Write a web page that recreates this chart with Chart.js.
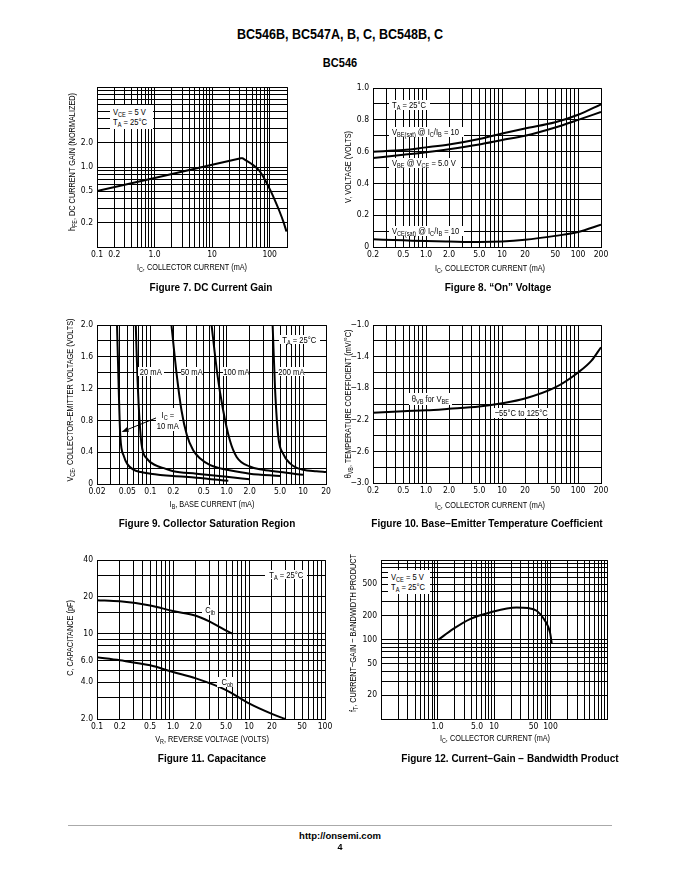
<!DOCTYPE html>
<html>
<head>
<meta charset="utf-8">
<title>BC546 characteristics</title>
<script src="https://cdn.jsdelivr.net/npm/chart.js@4.4.1/dist/chart.umd.min.js"></script>
<style>
  body { margin: 0; background: #fff; }
  #page { position: relative; width: 680px; height: 880px; overflow: hidden; color: #000;
    font-family: 'Liberation Sans', Arial, sans-serif; font-size: 9.5px; --sx: 0.77; }
  #page canvas { position: absolute; }
  .t { position: absolute; white-space: nowrap; line-height: 1;
    transform: translate(-50%, -50%) scaleX(var(--sx)); }
  .yt { position: absolute; white-space: nowrap; line-height: 1;
    transform: translate(-50%, -50%) rotate(-90deg) scaleX(var(--sx)); }
  .cap { font-weight: bold; font-size: 10px; --sx: 1; }
  .hd { font-weight: bold; }
  .n { position: absolute; background: #fff; white-space: nowrap; line-height: 10px; z-index: 2;
    display: flex; flex-direction: column; justify-content: center; align-items: center; }
  .n span { display: inline-block; transform: scaleX(0.8); transform-origin: center; }
  .n.l { align-items: flex-start; padding-left: 3px; box-sizing: border-box; }
  .n.l span { transform-origin: left center; }
  sub { font-size: 7px; vertical-align: -2px; line-height: 0; }
</style>
</head>
<body>
<div id="page">
  <div class="t hd" style="left:340px;top:33px;font-size:15px;--sx:0.835">BC546B, BC547A, B, C, BC548B, C</div>
  <div class="t hd" style="left:340px;top:62px;font-size:13px;--sx:0.85">BC546</div>

  <canvas id="fig7"></canvas>
  <canvas id="fig8"></canvas>
  <canvas id="fig9"></canvas>
  <canvas id="fig10"></canvas>
  <canvas id="fig11"></canvas>
  <canvas id="fig12"></canvas>

  <!-- figure 7 -->
  <div class="yt" style="left:72px;top:162px">h<sub>FE</sub>, DC CURRENT GAIN (NORMALIZED)</div>
  <div class="t" style="left:192px;top:267px">I<sub>C</sub>, COLLECTOR CURRENT (mA)</div>
  <div class="t cap" style="left:211px;top:288px">Figure 7. DC Current Gain</div>
  <div class="n l" style="left:110px;top:105px;width:43px;height:24px"><span>V<sub>CE</sub> = 5 V</span><span>T<sub>A</sub> = 25°C</span></div>

  <!-- figure 8 -->
  <div class="yt" style="left:348px;top:167px">V, VOLTAGE (VOLTS)</div>
  <div class="t" style="left:490px;top:268px">I<sub>C</sub>, COLLECTOR CURRENT (mA)</div>
  <div class="t cap" style="left:498px;top:288px">Figure 8. “On” Voltage</div>
  <div class="n l" style="left:389px;top:100px;width:41px;height:10px"><span>T<sub>A</sub> = 25°C</span></div>
  <div class="n l" style="left:389px;top:127px;width:75px;height:10px"><span>V<sub>BE(sat)</sub> @ I<sub>C</sub>/I<sub>B</sub> = 10</span></div>
  <div class="n l" style="left:389px;top:158px;width:72px;height:10px"><span>V<sub>BE</sub> @ V<sub>CE</sub> = 5.0 V</span></div>
  <div class="n l" style="left:389px;top:226px;width:75px;height:10px"><span>V<sub>CE(sat)</sub> @ I<sub>C</sub>/I<sub>B</sub> = 10</span></div>

  <!-- figure 9 -->
  <div class="yt" style="left:70px;top:400px">V<sub>CE</sub>, COLLECTOR–EMITTER VOLTAGE (VOLTS)</div>
  <div class="t" style="left:212px;top:504px">I<sub>B</sub>, BASE CURRENT (mA)</div>
  <div class="t cap" style="left:207px;top:524px">Figure 9. Collector Saturation Region</div>
  <div class="n" style="left:279px;top:335px;width:41px;height:9px"><span>T<sub>A</sub> = 25°C</span></div>
  <div class="n" style="left:138px;top:367px;width:26px;height:9px"><span>20 mA</span></div>
  <div class="n" style="left:181px;top:367px;width:22px;height:9px"><span>50 mA</span></div>
  <div class="n" style="left:223px;top:367px;width:26px;height:9px"><span>100 mA</span></div>
  <div class="n" style="left:278px;top:367px;width:26px;height:9px"><span>200 mA</span></div>
  <div class="n" style="left:156px;top:408px;width:23px;height:23px;line-height:11px"><span>I<sub>C</sub> =</span><span>10 mA</span></div>

  <!-- figure 10 -->
  <div class="yt" style="left:348px;top:404px">θ<sub>VB</sub>, TEMPERATURE COEFFICIENT (mV/°C)</div>
  <div class="t" style="left:490px;top:505px">I<sub>C</sub>, COLLECTOR CURRENT (mA)</div>
  <div class="t cap" style="left:487px;top:524px">Figure 10. Base−Emitter Temperature Coefficient</div>
  <div class="n" style="left:409px;top:393px;width:43px;height:12px"><span>θ<sub>VB</sub> for V<sub>BE</sub></span></div>
  <div class="n" style="left:493px;top:408px;width:57px;height:10px"><span>−55°C to 125°C</span></div>

  <!-- figure 11 -->
  <div class="yt" style="left:70px;top:638px">C, CAPACITANCE (pF)</div>
  <div class="t" style="left:212px;top:739px">V<sub>R</sub>, REVERSE VOLTAGE (VOLTS)</div>
  <div class="t cap" style="left:212px;top:759px">Figure 11. Capacitance</div>
  <div class="n" style="left:265px;top:570px;width:42px;height:9px"><span>T<sub>A</sub> = 25°C</span></div>
  <div class="n" style="left:202px;top:605px;width:16px;height:10px"><span>C<sub>ib</sub></span></div>
  <div class="n" style="left:217px;top:677px;width:20px;height:10px"><span>C<sub>ob</sub></span></div>

  <!-- figure 12 -->
  <div class="yt" style="left:353px;top:633px">f<sub>T</sub>, CURRENT−GAIN − BANDWIDTH PRODUCT</div>
  <div class="t" style="left:495px;top:738px">I<sub>C</sub>, COLLECTOR CURRENT (mA)</div>
  <div class="t cap" style="left:510px;top:759px">Figure 12. Current−Gain − Bandwidth Product</div>
  <div class="n l" style="left:388px;top:570px;width:42px;height:24px"><span>V<sub>CE</sub> = 5 V</span><span>T<sub>A</sub> = 25°C</span></div>

  <div style="position:absolute;left:68px;top:825px;width:544px;height:1px;background:#aaa"></div>
  <div class="t hd" style="left:340px;top:836px;--sx:1">http://onsemi.com</div>
  <div class="t hd" style="left:340px;top:847px;font-size:9px;--sx:1">4</div>
</div>

<script>
// Figure 7: DC current gain (normalized) vs collector current
const f7RiseIc = [0.1, 1, 10, 33];
const f7RiseHfe = [0.5, 0.73, 1.07, 1.3];
const f7FallIc = [33, 48, 66, 84, 103, 126, 148, 174, 196];
const f7FallHfe = [1.3, 1.1, 0.9, 0.68, 0.51, 0.37, 0.28, 0.205, 0.156];
const f7XTicks = [0.1, 0.2, 1, 10, 100];
const f7XLabels = ['0.1', '0.2', '1.0', '10', '100'];
const f7YTicks = [0.2, 0.5, 1, 2];
const f7YLabels = ['0.2', '0.5', '1.0', '2.0'];

// Figure 8: "on" voltages
const f8Ic = [0.2, 0.5, 1, 2, 5, 10, 20, 50, 100, 200];
const f8VbeSat = [0.6, 0.61, 0.627, 0.645, 0.68, 0.714, 0.746, 0.785, 0.832, 0.898];
const f8Vbe = [0.56, 0.58, 0.596, 0.615, 0.645, 0.673, 0.7, 0.752, 0.8, 0.85];
const f8VceSat = [0.048, 0.042, 0.037, 0.034, 0.031, 0.034, 0.045, 0.07, 0.094, 0.14];
const f8XTicks = [0.2, 0.5, 1, 2, 5, 10, 20, 50, 100, 200];
const f8XLabels = ['0.2', '0.5', '1.0', '2.0', '5.0', '10', '20', '50', '100', '200'];
const f8YTicks = [0, 0.2, 0.4, 0.6, 0.8, 1];
const f8YLabels = ['0', '0.2', '0.4', '0.6', '0.8', '1.0'];

// Figure 9: collector saturation region, one curve per collector current
const f9Ib10 = [0.0366, 0.0385, 0.0404, 0.045, 0.05, 0.06, 0.075, 0.1, 0.2, 0.4, 1.05];
const f9Vce10 = [2.0, 1.2, 0.6, 0.35, 0.25, 0.18, 0.15, 0.13, 0.1, 0.08, 0.04];
const f9Ib20 = [0.0644, 0.068, 0.0764, 0.09, 0.12, 0.15, 0.2, 0.4, 1.0, 2.0];
const f9Vce20 = [2.0, 1.3, 0.51, 0.32, 0.23, 0.2, 0.16, 0.13, 0.09, 0.06];
const f9Ib50 = [0.189, 0.22, 0.256, 0.3, 0.364, 0.45, 0.6, 0.8, 1.0, 2.0, 5.0];
const f9Vce50 = [2.0, 1.4, 0.925, 0.62, 0.425, 0.32, 0.24, 0.2, 0.18, 0.13, 0.1];
const f9Ib100 = [0.634, 0.75, 0.9, 1.1, 1.35, 2.0, 3.0, 5.0, 10];
const f9Vce100 = [2.0, 1.4, 0.925, 0.55, 0.34, 0.22, 0.18, 0.15, 0.115];
const f9Ib200 = [4.0, 4.3, 4.75, 5.5, 6.76, 8, 10, 15, 20];
const f9Vce200 = [2.0, 1.2, 0.59, 0.38, 0.26, 0.21, 0.18, 0.16, 0.15];
const f9ArrowFrom = [0.125, 0.84];
const f9ArrowTo = [0.042, 0.655];
const f9XTicks = [0.02, 0.05, 0.1, 0.2, 0.5, 1, 2, 5, 10, 20];
const f9XLabels = ['0.02', '0.05', '0.1', '0.2', '0.5', '1.0', '2.0', '5.0', '10', '20'];
const f9YTicks = [0, 0.4, 0.8, 1.2, 1.6, 2];
const f9YLabels = ['0', '0.4', '0.8', '1.2', '1.6', '2.0'];

// Figure 10: base-emitter temperature coefficient
const f10Ic = [0.2, 0.5, 1, 2, 5, 10, 20, 50, 100, 150, 200];
const f10Theta = [-2.11, -2.09, -2.08, -2.06, -2.03, -1.99, -1.93, -1.79, -1.6, -1.45, -1.28];
const f10XTicks = f8XTicks;
const f10XLabels = f8XLabels;
const f10YTicks = [-3, -2.6, -2.2, -1.8, -1.4, -1];
const f10YLabels = ['−3.0', '−2.6', '−2.2', '−1.8', '−1.4', '−1.0'];

// Figure 11: capacitance vs reverse voltage
const f11VrIb = [0.1, 0.2, 0.5, 1, 2, 3, 5, 6];
const f11Cib = [18.8, 18.4, 17, 15.3, 14, 12.6, 10.6, 10];
const f11VrOb = [0.1, 0.2, 0.5, 1, 2, 5, 10, 20, 30];
const f11Cob = [6.4, 6.05, 5.5, 4.85, 4.3, 3.45, 2.68, 2.2, 2.0];
const f11XTicks = [0.1, 0.2, 0.5, 1, 2, 5, 10, 20, 50, 100];
const f11XLabels = ['0.1', '0.2', '0.5', '1.0', '2.0', '5.0', '10', '20', '50', '100'];
const f11YTicks = [2, 4, 6, 10, 20, 40];
const f11YLabels = ['2.0', '4.0', '6.0', '10', '20', '40'];

// Figure 12: current-gain bandwidth product
const f12Ic = [1.03, 1.9, 3.76, 8.5, 25, 40, 57, 80, 98, 105];
const f12Ft = [99, 136, 181, 219, 253, 249, 230, 173, 123, 90];
const f12XTicks = [1, 5, 10, 50, 100];
const f12XLabels = ['1.0', '5.0', '10', '50', '100'];
const f12YTicks = [20, 50, 100, 200, 500];
const f12YLabels = ['20', '50', '100', '200', '500'];

const FONT = "'DejaVu Sans Condensed', 'Liberation Sans', sans-serif";
const PAD = { l: 44, t: 8, r: 14, b: 22 };

// grid line positions for a log axis: 1..9 of every decade inside [min, max]
function logGrid(min, max, extra = []) {
  const out = [];
  for (let e = Math.floor(Math.log10(min)); e <= Math.ceil(Math.log10(max)); e++) {
    for (let m = 1; m < 10; m++) {
      const v = +(m * Math.pow(10, e)).toPrecision(6);
      if (v >= min * 0.999 && v <= max * 1.001) out.push(v);
    }
  }
  return out.concat(extra).sort((a, b) => a - b);
}

function linGrid(min, max, step) {
  const out = [];
  const n = Math.round((max - min) / step);
  for (let i = 0; i <= n; i++) out.push(+(min + i * step).toFixed(6));
  return out;
}

function labeler(vals, texts) {
  return v => {
    const i = vals.findIndex(t => Math.abs(t - v) < Math.abs(t) * 1e-6 + 1e-9);
    return i < 0 ? '' : texts[i];
  };
}

function axis(type, min, max, grid, tickVals, tickTexts, isX) {
  return {
    type, min, max,
    afterBuildTicks: s => { s.ticks = grid.map(v => ({ value: v })); },
    afterFit: s => { if (isX) s.height = PAD.b; else s.width = PAD.l; },
    ticks: {
      autoSkip: false, maxRotation: 0, minRotation: 0,
      padding: isX ? 3 : 4, color: '#000',
      font: { family: FONT, size: 8.5 },
      callback: labeler(tickVals, tickTexts)
    },
    grid: { color: '#000', lineWidth: 1, drawTicks: false },
    border: { color: '#000', width: 1 }
  };
}

function curve(xs, ys, smooth = true) {
  return {
    data: xs.map((x, i) => ({ x, y: ys[i] })),
    borderColor: '#000', borderWidth: 2, pointRadius: 0, fill: false,
    tension: 0, cubicInterpolationMode: smooth ? 'monotone' : 'default'
  };
}

function plot(id, area, x, y, datasets, plugins = []) {
  const c = document.getElementById(id);
  const [l, t, r, b] = area;
  c.style.left = (l - PAD.l) + 'px';
  c.style.top = (t - PAD.t) + 'px';
  c.width = r - l + PAD.l + PAD.r;
  c.height = b - t + PAD.t + PAD.b;
  return new Chart(c, {
    type: 'line',
    data: { datasets },
    options: {
      responsive: false, animation: false, devicePixelRatio: 1, events: [],
      layout: { autoPadding: false, padding: { top: PAD.t, right: PAD.r, left: 0, bottom: 0 } },
      scales: { x, y },
      plugins: { legend: { display: false }, tooltip: { enabled: false } }
    },
    plugins
  });
}

// arrow pointing at the 10 mA curve in figure 9
const arrowPlugin = {
  id: 'arrow',
  afterDatasetsDraw(chart) {
    const { ctx, scales: { x, y } } = chart;
    const x0 = x.getPixelForValue(f9ArrowFrom[0]), y0 = y.getPixelForValue(f9ArrowFrom[1]);
    const x1 = x.getPixelForValue(f9ArrowTo[0]), y1 = y.getPixelForValue(f9ArrowTo[1]);
    const a = Math.atan2(y1 - y0, x1 - x0);
    ctx.save();
    ctx.strokeStyle = '#000';
    ctx.fillStyle = '#000';
    ctx.lineWidth = 1;
    ctx.beginPath();
    ctx.moveTo(x0, y0);
    ctx.lineTo(x1 - 5 * Math.cos(a), y1 - 5 * Math.sin(a));
    ctx.stroke();
    ctx.beginPath();
    ctx.moveTo(x1, y1);
    ctx.lineTo(x1 - 7 * Math.cos(a) + 2.5 * Math.sin(a), y1 - 7 * Math.sin(a) - 2.5 * Math.cos(a));
    ctx.lineTo(x1 - 7 * Math.cos(a) - 2.5 * Math.sin(a), y1 - 7 * Math.sin(a) + 2.5 * Math.cos(a));
    ctx.closePath();
    ctx.fill();
    ctx.restore();
  }
};

plot('fig7', [97, 86, 287, 247],
  axis('logarithmic', 0.1, 200, logGrid(0.1, 200), f7XTicks, f7XLabels, true),
  axis('logarithmic', 0.1, 10, logGrid(0.1, 10), f7YTicks, f7YLabels, false),
  [curve(f7RiseIc, f7RiseHfe, false), curve(f7FallIc, f7FallHfe)]);

plot('fig8', [373, 87, 601, 247],
  axis('logarithmic', 0.2, 200, logGrid(0.2, 200), f8XTicks, f8XLabels, true),
  axis('linear', 0, 1, linGrid(0, 1, 0.1), f8YTicks, f8YLabels, false),
  [curve(f8Ic, f8VbeSat), curve(f8Ic, f8Vbe), curve(f8Ic, f8VceSat)]);

plot('fig9', [97, 324, 326, 484],
  axis('logarithmic', 0.02, 20, logGrid(0.02, 20), f9XTicks, f9XLabels, true),
  axis('linear', 0, 2, linGrid(0, 2, 0.2), f9YTicks, f9YLabels, false),
  [curve(f9Ib10, f9Vce10), curve(f9Ib20, f9Vce20), curve(f9Ib50, f9Vce50),
   curve(f9Ib100, f9Vce100), curve(f9Ib200, f9Vce200)],
  [arrowPlugin]);

plot('fig10', [373, 324, 601, 483],
  axis('logarithmic', 0.2, 200, logGrid(0.2, 200), f10XTicks, f10XLabels, true),
  axis('linear', -3, -1, linGrid(-3, -1, 0.2), f10YTicks, f10YLabels, false),
  [curve(f10Ic, f10Theta)]);

plot('fig11', [97, 559, 325, 719],
  axis('logarithmic', 0.1, 100, logGrid(0.1, 100), f11XTicks, f11XLabels, true),
  axis('logarithmic', 2, 40, logGrid(2, 40, [15]), f11YTicks, f11YLabels, false),
  [curve(f11VrIb, f11Cib), curve(f11VrOb, f11Cob)]);

plot('fig12', [381, 559, 607, 719],
  axis('logarithmic', 0.1, 1000, logGrid(0.1, 1000), f12XTicks, f12XLabels, true),
  axis('logarithmic', 10, 1000, logGrid(10, 1000), f12YTicks, f12YLabels, false),
  [curve(f12Ic, f12Ft)]);
</script>
</body>
</html>
